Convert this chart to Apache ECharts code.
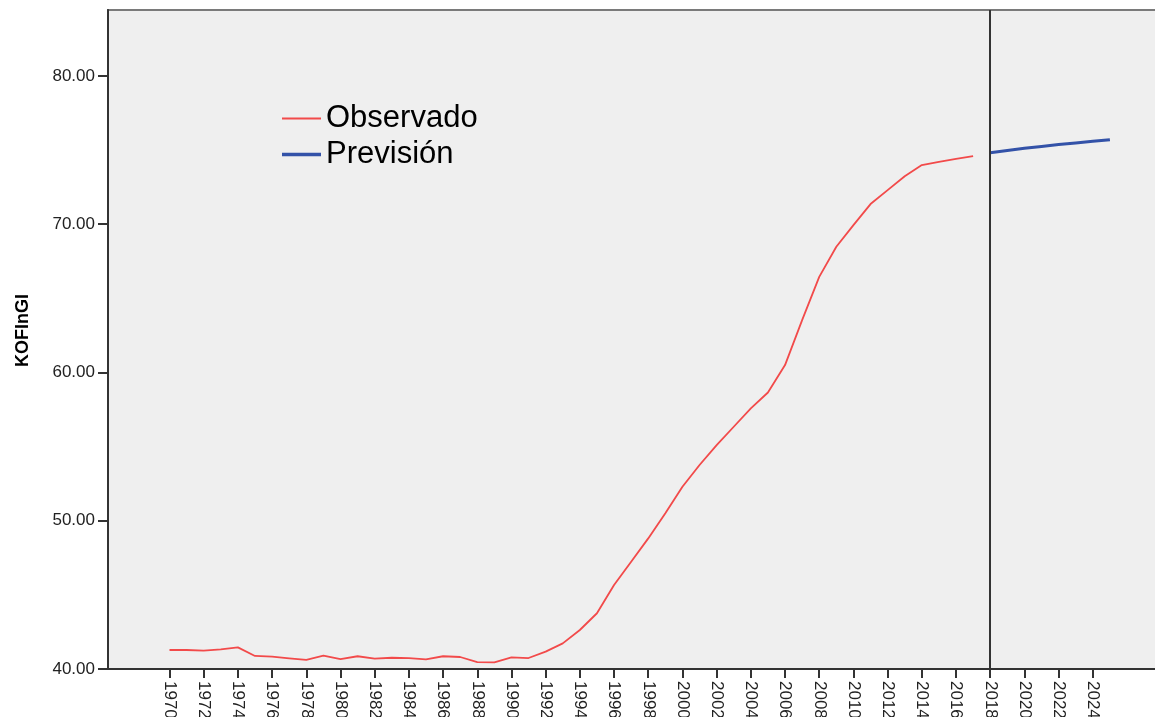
<!DOCTYPE html>
<html>
<head>
<meta charset="utf-8">
<script src="https://cdn.jsdelivr.net/npm/echarts/dist/echarts.min.js"></script>
<style>
html,body{margin:0;padding:0;background:#fff;}
#c{width:1155px;height:717px;}
</style>
</head>
<body>
<div id="c"></div>
<script>
// ---- data ----
const years = [];
for (let y = 1970; y <= 2025; y++) years.push(String(y));

const observedYears = ['1970','1971','1972','1973','1974','1975','1976','1977','1978','1979',
  '1980','1981','1982','1983','1984','1985','1986','1987','1988','1989',
  '1990','1991','1992','1993','1994','1995','1996','1997','1998','1999',
  '2000','2001','2002','2003','2004','2005','2006','2007','2008','2009',
  '2010','2011','2012','2013','2014','2015','2016','2017'];
const observedValues = [41.28,41.28,41.24,41.32,41.46,40.88,40.83,40.72,40.61,40.90,
  40.66,40.86,40.70,40.76,40.74,40.65,40.86,40.81,40.47,40.45,
  40.79,40.74,41.17,41.73,42.63,43.76,45.66,47.24,48.81,50.50,
  52.29,53.76,55.10,56.34,57.58,58.65,60.50,63.53,66.45,68.48,
  69.94,71.36,72.30,73.24,73.99,74.21,74.41,74.59];

const forecastYears = ['2018','2019','2020','2021','2022','2023','2024','2025'];
const forecastValues = [74.82,74.98,75.12,75.25,75.37,75.48,75.59,75.70];

const yTicks = [40, 50, 60, 70, 80];
const yMin = 40, yMax = 84.45;

// ---- build series arrays aligned to categories ----
const obsData = years.map(y => { const i = observedYears.indexOf(y); return i >= 0 ? observedValues[i] : null; });
const fcData = years.map(y => { const i = forecastYears.indexOf(y); return i >= 0 ? forecastValues[i] : null; });

const chart = echarts.init(document.getElementById('c'), null, {renderer: 'canvas'});
const font = 'Liberation Sans, Arial, sans-serif';
const RED = '#f24a4a', BLUE = '#3352a8';

const legendBase = {
  orient: 'vertical', left: 282, itemWidth: 39, icon: 'rect', itemGap: 0, padding: 0,
  textStyle: {fontFamily: font, fontSize: 31, color: '#000'}
};

chart.setOption({
  backgroundColor: '#ffffff',
  animation: false,
  textStyle: {fontFamily: font},
  grid: [
    {left: 108, top: 10, right: -10, bottom: 48, show: true, backgroundColor: '#efefef',
     borderColor: '#7a7a7a', borderWidth: 2, containLabel: false, outerBoundsMode: 'none'},
    {left: 169.5, top: 10, right: 45.1, bottom: 48, containLabel: false, outerBoundsMode: 'none'}
  ],
  legend: [
    Object.assign({}, legendBase, {top: 103, itemHeight: 2, data: ['Observado']}),
    Object.assign({}, legendBase, {top: 139, itemHeight: 3.5, data: ['Previsión']})
  ],
  xAxis: [
    {gridIndex: 0, type: 'value', min: 0, max: 1, splitLine: {show: false},
     axisLine: {show: true, lineStyle: {color: '#333', width: 2}},
     axisTick: {show: false}, axisLabel: {show: false}},
    {gridIndex: 1, type: 'category', data: years, boundaryGap: false,
     axisLine: {show: false},
     axisTick: {show: true, interval: 1, length: 9, lineStyle: {color: '#333', width: 2}},
     axisLabel: {interval: 1, rotate: -90, margin: 12, fontSize: 17, color: '#222', fontFamily: font},
     splitLine: {show: false}}
  ],
  yAxis: [
    {gridIndex: 0, type: 'value', min: yMin, max: yMax, interval: 10,
     name: 'KOFInGI', nameLocation: 'middle', nameGap: 76, nameRotate: 90,
     nameTextStyle: {fontSize: 18, fontWeight: 'bold', color: '#000', fontFamily: font, padding: [0, 0, 0, 18]},
     axisLine: {show: true, lineStyle: {color: '#333', width: 2}},
     axisTick: {show: true, length: 10, customValues: yTicks, lineStyle: {color: '#333', width: 2}},
     axisLabel: {margin: 13, fontSize: 17, color: '#222', fontFamily: font, customValues: yTicks,
       formatter: v => v.toFixed(2)},
     splitLine: {show: false}},
    {gridIndex: 1, type: 'value', min: yMin, max: yMax, show: false, splitLine: {show: false}}
  ],
  series: [
    {name: 'Observado', type: 'line', xAxisIndex: 1, yAxisIndex: 1, data: obsData,
     symbol: 'none', showSymbol: false, connectNulls: false,
     lineStyle: {color: RED, width: 1.8}, itemStyle: {color: RED}},
    {name: 'Previsión', type: 'line', xAxisIndex: 1, yAxisIndex: 1, data: fcData,
     symbol: 'none', showSymbol: false, connectNulls: false,
     lineStyle: {color: BLUE, width: 3}, itemStyle: {color: BLUE},
     markLine: {silent: true, symbol: 'none', label: {show: false},
       lineStyle: {color: '#333', width: 2, type: 'solid'},
       data: [{xAxis: '2018'}]}}
  ]
});
</script>
</body>
</html>
